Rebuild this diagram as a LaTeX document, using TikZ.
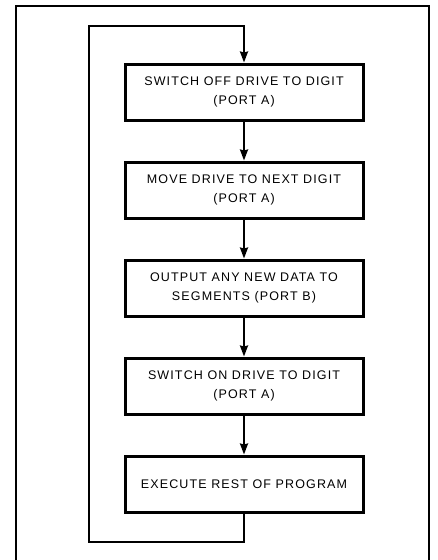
\documentclass[tikz,border=0pt]{standalone}
\usepackage{fontspec}
\setmainfont{Liberation Sans}[LetterSpace=9]
\usetikzlibrary{positioning, arrows.meta}

\tikzset{
  stepbox/.style={rectangle, draw, line width=3pt, minimum width=238pt,
    minimum height=56pt, align=center, font=\fontsize{12.5}{19}\selectfont},
  flow/.style={->, line width=2pt},
}

\begin{document}
\begin{tikzpicture}[x=1pt, y=-1pt, >={Stealth[length=11pt, width=8pt, inset=1pt]},
    node distance=39pt]

\useasboundingbox (0,0) rectangle (437,560);

% outer frame (open at the bottom)
\draw[line width=1.3pt] (16,560) -- (16,6) -- (429,6) -- (429,560);

% Program steps
\node[stepbox] (off) at (244,92) {SWITCH OFF DRIVE TO DIGIT\\(PORT A)};
\node[stepbox, below=of off] (move) {MOVE DRIVE TO NEXT DIGIT\\(PORT A)};
\node[stepbox, below=of move] (seg) {OUTPUT ANY NEW DATA TO\\SEGMENTS (PORT B)};
\node[stepbox, below=of seg] (on) {SWITCH ON DRIVE TO DIGIT\\(PORT A)};
\node[stepbox, below=of on] (rest) {EXECUTE REST OF PROGRAM};

% Arrows down the chain
\draw[flow] (off) -- (move);
\draw[flow] (move) -- (seg);
\draw[flow] (seg) -- (on);
\draw[flow] (on) -- (rest);

% Loop back to the top
\coordinate (loopbot) at (rest.south |- 0,542);
\coordinate (looptop) at (off.north |- 0,26);
\draw[flow] (rest.south) -- (loopbot) -| (89,26) -- (looptop) -- (off.north);

\end{tikzpicture}
\end{document}
